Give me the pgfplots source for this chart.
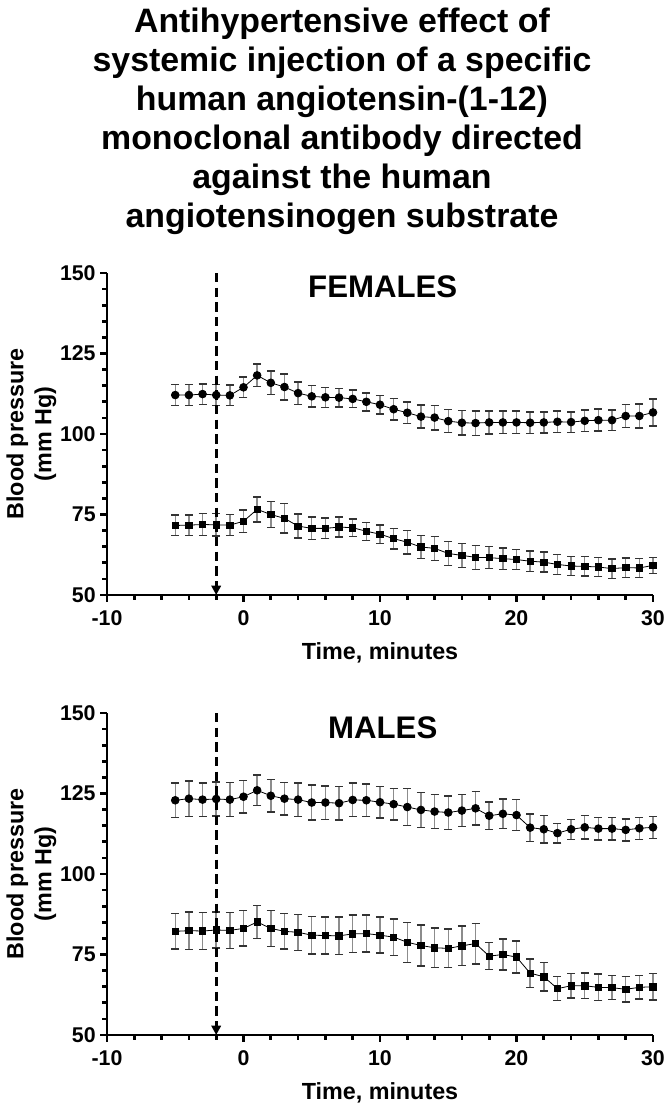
\documentclass[border=0pt]{standalone}
\usepackage{fontspec}
\setmainfont{Liberation Sans}
\usepackage{pgfplots}
\usepackage{pgfplotstable}
\pgfplotsset{compat=1.18}
\usetikzlibrary{arrows.meta}

\pgfplotstableread{
x y e
-5 112.1 3.3
-4 112.1 3.2
-3 112.4 3.2
-2 112.1 3.3
-1 112.0 3.2
0 114.5 3.2
1 118.2 3.5
2 115.9 3.6
3 114.6 4.0
4 112.7 3.5
5 111.7 3.3
6 111.4 3.1
7 111.3 2.9
8 110.9 2.7
9 110.0 2.8
10 109.1 2.9
11 107.7 3.3
12 106.6 3.4
13 105.4 3.6
14 105.1 3.8
15 104.0 3.6
16 103.5 3.8
17 103.4 3.8
18 103.6 3.6
19 103.6 3.5
20 103.6 3.5
21 103.5 3.3
22 103.6 3.3
23 103.8 3.3
24 103.7 3.2
25 104.1 3.3
26 104.3 3.4
27 104.3 3.2
28 105.6 3.6
29 105.6 3.7
30 106.7 4.2
}\femup

\pgfplotstableread{
x y e
-5 71.6 3.2
-4 71.7 3.2
-3 71.9 3.4
-2 71.8 3.5
-1 71.7 3.3
0 72.9 3.5
1 76.6 3.9
2 75.0 4.1
3 73.8 4.6
4 71.4 3.7
5 70.7 3.5
6 70.7 3.2
7 71.1 3.1
8 70.9 2.7
9 69.8 2.8
10 68.9 2.9
11 67.5 3.2
12 66.4 3.6
13 64.9 3.5
14 64.5 3.7
15 62.9 3.8
16 62.3 3.7
17 61.7 3.7
18 61.6 3.4
19 61.3 3.3
20 61.0 3.1
21 60.5 3.2
22 60.2 3.1
23 59.5 3.1
24 59.0 3.0
25 58.9 3.0
26 58.7 3.0
27 58.2 3.0
28 58.5 3.0
29 58.4 2.9
30 59.2 2.5
}\femlo

\pgfplotstableread{
x y e
-5 122.9 5.3
-4 123.4 5.5
-3 123.1 5.2
-2 123.3 5.3
-1 123.1 5.3
0 124.0 5.0
1 126.0 4.8
2 124.3 5.0
3 123.4 5.1
4 123.1 5.2
5 122.2 5.4
6 122.2 5.2
7 122.0 5.2
8 123.0 5.2
9 122.9 5.1
10 122.3 4.9
11 121.7 4.9
12 120.8 5.7
13 119.9 5.4
14 119.4 5.3
15 119.1 5.2
16 119.7 5.0
17 120.4 5.2
18 118.1 4.3
19 118.7 4.6
20 118.3 4.8
21 114.4 4.3
22 113.9 4.2
23 112.7 3.0
24 113.9 3.1
25 114.5 3.6
26 114.1 3.5
27 114.1 3.5
28 113.7 3.4
29 114.2 3.4
30 114.5 3.4
}\maleup

\pgfplotstableread{
x y e
-5 82.2 5.5
-4 82.4 5.8
-3 82.3 5.8
-2 82.6 5.6
-1 82.5 5.6
0 83.1 5.5
1 85.1 5.2
2 83.1 5.6
3 82.2 5.5
4 81.9 5.6
5 81.0 5.8
6 80.9 5.8
7 80.8 5.8
8 81.4 5.8
9 81.5 5.7
10 81.0 5.6
11 80.4 5.7
12 78.8 6.2
13 77.8 6.3
14 77.1 6.1
15 76.9 6.0
16 77.7 6.1
17 78.4 6.3
18 74.5 4.2
19 75.0 4.8
20 74.2 5.0
21 69.2 4.4
22 68.1 4.4
23 64.4 3.7
24 65.3 3.8
25 65.3 4.0
26 64.8 4.1
27 64.7 3.7
28 64.2 3.9
29 64.8 3.6
30 65.0 4.1
}\malelo

\pgfplotsset{
  bpaxis/.style={
    width=409.5pt, height=241.5pt, scale only axis,
    xmin=-10, xmax=30, ymin=50, ymax=150,
    axis x line*=bottom, axis y line*=left,
    axis line style={line width=2.2pt, -},
    xtick={-10,0,10,20,30}, minor x tick num=4,
    ytick={50,75,100,125,150}, minor y tick num=4,
    tick align=outside,
    major tick length=5pt, minor tick length=3.5pt,
    tick style={line width=2pt, black},
    ticklabel style={font=\fontsize{16}{18}\selectfont\bfseries},
    xticklabel style={yshift=-3pt},
    /pgf/number format/assume math mode=true,
    xlabel={Time, minutes},
    ylabel={Blood pressure\\(mm Hg)},
    label style={font=\fontsize{17.5}{21}\selectfont\bfseries},
    xlabel style={yshift=-6pt},
    ylabel style={align=center, yshift=-4pt},
    clip=false,
  },
  circ/.style={black, line width=0.6pt, mark=*, mark size=2.9pt,
    mark options={solid, fill=black},
    error bars/.cd, y dir=both, y explicit,
    error bar style={line width=1.1pt, black!45},
    error mark options={rotate=90, mark size=3pt, line width=1.1pt, black!80}},
  sq/.style={black, line width=0.6pt, mark=square*, mark size=2.4pt,
    mark options={solid, fill=black},
    error bars/.cd, y dir=both, y explicit,
    error bar style={line width=1.1pt, black!45},
    error mark options={rotate=90, mark size=3pt, line width=1.1pt, black!80}},
}

\begin{document}
\begin{tikzpicture}
\path[use as bounding box] (0pt,0pt) rectangle (499.5pt,-833.25pt);

\node[anchor=north, align=center, inner sep=0pt,
      font=\fontsize{25.4}{29.25}\selectfont\bfseries] at (256.5pt,-5.5pt)
  {Antihypertensive effect of\\systemic injection of a specific\\human angiotensin-(1-12)\\monoclonal antibody directed\\against the human\\angiotensinogen substrate};

\begin{axis}[bpaxis, at={(80.25pt,-446.25pt)}, anchor=south west]
  \addplot[circ] table[x=x, y=y, y error=e] {\femup};
  \addplot[sq] table[x=x, y=y, y error=e] {\femlo};
  \draw[line width=2.2pt, dash pattern=on 7pt off 4pt, -{Triangle[width=7pt,length=7pt]}]
    (axis cs:-2,150) -- (axis cs:-2,50);
  \node[font=\fontsize{23.4}{26}\selectfont\bfseries] at (axis cs:10.2,145.6) {FEMALES};
\end{axis}

\begin{axis}[bpaxis, at={(80.25pt,-776.25pt)}, anchor=south west]
  \addplot[circ] table[x=x, y=y, y error=e] {\maleup};
  \addplot[sq] table[x=x, y=y, y error=e] {\malelo};
  \draw[line width=2.2pt, dash pattern=on 7pt off 4pt, -{Triangle[width=7pt,length=7pt]}]
    (axis cs:-2,150) -- (axis cs:-2,50);
  \node[font=\fontsize{23.4}{26}\selectfont\bfseries] at (axis cs:10.2,145.3) {MALES};
\end{axis}
\end{tikzpicture}
\end{document}
